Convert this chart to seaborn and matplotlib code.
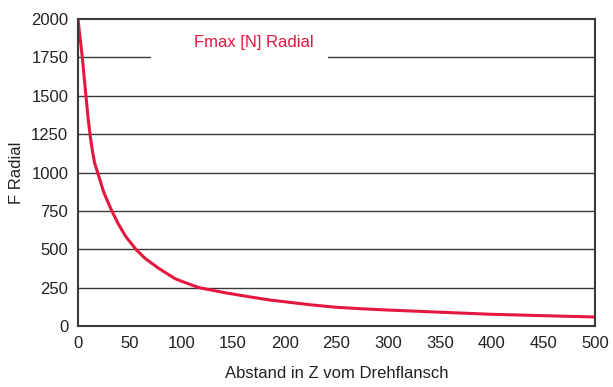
import matplotlib
matplotlib.use("Agg")
import matplotlib.pyplot as plt
import seaborn as sns
import pandas as pd
from matplotlib.patches import Rectangle

distance = [0, 2, 4.2, 6, 7.7, 10, 12, 14, 16, 19, 25, 32, 39, 46, 56, 65, 78, 94, 100, 117,
            142, 165, 186, 200, 225, 250, 275, 300, 350, 401, 425, 452, 475, 500]
force = [2000, 1880, 1750, 1620, 1500, 1340, 1230, 1140, 1065, 1000, 870, 760, 665, 585, 500, 440, 376, 308, 292, 250,
         217, 191, 169, 158, 138, 122, 112, 104, 90, 76, 72, 67, 63, 59]
x_ticks = [0, 50, 100, 150, 200, 250, 300, 350, 400, 450, 500]
y_ticks = [0, 250, 500, 750, 1000, 1250, 1500, 1750, 2000]
legend_label = "Fmax [N] Radial"

sns.set_theme(style="white")
plt.rcParams['font.family'] = ['Liberation Sans', 'DejaVu Sans']

df = pd.DataFrame({"x": distance, "y": force})

fig = plt.figure(figsize=(6.13, 3.87), dpi=100)
ax = fig.add_axes([0.1272, 0.1576, 0.9706 - 0.1272, 0.9509 - 0.1576])

red = "#e5173f"
grid_c = "#3a3a3a"

for v in y_ticks[1:-1]:
    ax.axhline(v, color=grid_c, lw=1.0, zorder=1)

ax.add_patch(Rectangle((70.6, 1600), 171.4, 360, facecolor="white", edgecolor="none", zorder=1.5))
ax.text(169.7, 1850, legend_label, color=red, fontsize=12, ha="center", va="center", zorder=3)

sns.lineplot(data=df, x="x", y="y", color=red, lw=2.2, ax=ax, zorder=2)

ax.set_xlim(0, 500)
ax.set_ylim(0, 2000)
ax.set_xticks(x_ticks)
ax.set_yticks(y_ticks)
ax.set_xticklabels([str(t) for t in x_ticks], fontsize=12, color="#222222")
ax.set_yticklabels([str(t) for t in y_ticks], fontsize=12, color="#222222")
ax.tick_params(axis="x", direction="out", length=5, width=1.2, color=grid_c, pad=2)
ax.tick_params(axis="y", direction="out", length=5, width=1.2, color=grid_c, pad=2)
for t in ax.yaxis.get_major_ticks()[1:]:
    t.tick1line.set_visible(False)

ax.set_xlabel("Abstand in Z vom Drehflansch", fontsize=12, color="#222222", labelpad=11)
ax.set_ylabel("F Radial", fontsize=12, color="#222222", labelpad=5)

for s in ax.spines.values():
    s.set_visible(True)
    s.set_color(grid_c)
    s.set_linewidth(1.5)

fig.savefig("out.png", dpi=100)
